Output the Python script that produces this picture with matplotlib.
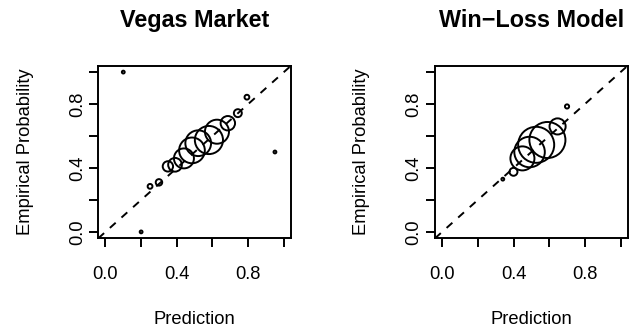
import numpy as np
import matplotlib
matplotlib.use('Agg')
import matplotlib.pyplot as plt

plt.rcParams['font.family'] = ['Liberation Sans', 'DejaVu Sans']

# calibration bins: mean prediction, observed win rate, games in bin
vegas_pred = [0.10, 0.20, 0.95, 0.25, 0.30, 0.35, 0.39, 0.44, 0.485, 0.52, 0.58, 0.625, 0.686, 0.742, 0.793]
vegas_emp = [1.00, 0.00, 0.50, 0.285, 0.31, 0.41, 0.42, 0.46, 0.51, 0.555, 0.575, 0.627, 0.68, 0.743, 0.843]
vegas_n = [14, 14, 14, 40, 73, 185, 325, 690, 1145, 1145, 1370, 1000, 360, 109, 40]

wl_pred = [0.34, 0.40, 0.45, 0.49, 0.527, 0.59, 0.647, 0.70]
wl_emp = [0.33, 0.376, 0.46, 0.50, 0.545, 0.575, 0.66, 0.785]
wl_n = [14, 109, 1000, 1610, 2250, 2250, 450, 30]

titles = ['Vegas Market', 'Win\u2212Loss Model']
tick_vals = [0.0, 0.2, 0.4, 0.6, 0.8, 1.0]
tick_text = ['0.0', '', '0.4', '', '0.8', '']

DPI = 100
fig = plt.figure(figsize=(6.29, 3.28), dpi=DPI)

panels = [(vegas_pred, vegas_emp, vegas_n), (wl_pred, wl_emp, wl_n)]
lefts = [98.3, 435.0]
W, H = 629.0, 328.0
lw = 1.4

for i, (px, py, n) in enumerate(panels):
    ax = fig.add_axes([lefts[i] / W, (H - 238.3) / H, 192.7 / W, 172.6 / H])
    lo, hi = -0.04, 1.04
    ax.set_xlim(lo, hi)
    ax.set_ylim(lo, hi)

    # y = x reference
    ax.plot([lo, hi], [lo, hi], color='black', lw=lw, ls=(0, (4, 4)), zorder=1)

    # circle radius in pixels grows with sqrt(games)
    r_px = 0.38 * np.sqrt(np.array(n, dtype=float))
    s = (2 * r_px * 72.0 / DPI) ** 2
    ax.scatter(px, py, s=s, facecolors='none', edgecolors='black',
               linewidths=lw, zorder=2)

    ax.set_xticks(tick_vals)
    ax.set_xticklabels(tick_text)
    ax.set_yticks(tick_vals)
    ax.set_yticklabels(tick_text, rotation=90, va='center')
    ax.tick_params(direction='out', length=6.5, width=lw, labelsize=13.2)
    ax.tick_params(axis='x', pad=13.5)
    ax.tick_params(axis='y', pad=2.5)
    for sp in ax.spines.values():
        sp.set_linewidth(lw)

    cx = (lefts[i] + 192.7 / 2) / W
    fig.text(cx, 1 - 26.7 / H, titles[i], ha='center', va='baseline',
             fontsize=16.8, fontweight='bold')
    fig.text(cx, 1 - 324.0 / H, 'Prediction', ha='center', va='baseline',
             fontsize=13.2)
    fig.text((lefts[i] - 73) / W, 1 - 152.0 / H, 'Empirical Probability',
             ha='center', va='center', rotation=90, fontsize=13.2)

fig.savefig('out.png', dpi=DPI)
